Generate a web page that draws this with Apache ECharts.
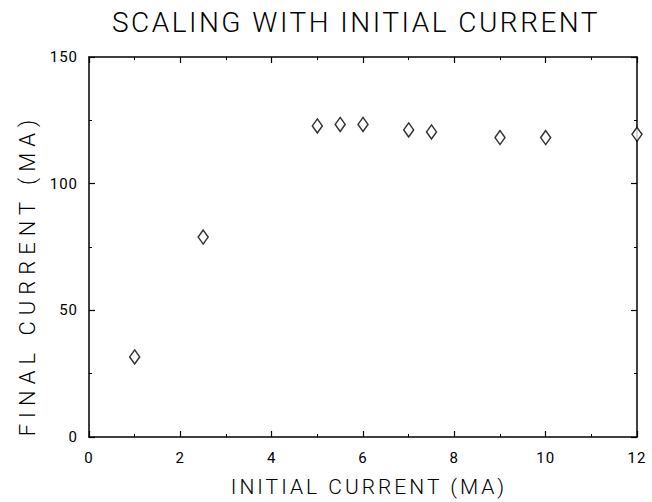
<!DOCTYPE html>
<html>
<head>
<meta charset="utf-8">
<script src="https://cdn.jsdelivr.net/npm/echarts@6/dist/echarts.min.js"></script>
<style>
html,body{margin:0;padding:0;background:#fff;}
#chart{width:652px;height:502px;}
#chart text[style*="28px"]{letter-spacing:2.5px;}
#chart text[style*="21px"]{letter-spacing:3px;}
#chart text[style*="22px"]{letter-spacing:6px;}
#chart text[style*="15px"]{letter-spacing:1px;}
</style>
</head>
<body>
<div id="chart"></div>
<script>
const titleText = "SCALING WITH INITIAL CURRENT";
const xName = "INITIAL CURRENT (MA)";
const yName = "FINAL CURRENT (MA)";
const initialCurrent = [1, 2.5, 5, 5.5, 6, 7, 7.5, 9, 10, 12];
const finalCurrent = [31.6, 78.9, 122.8, 123.4, 123.4, 121.2, 120.4, 118.2, 118.2, 119.5];
const xTicks = [0, 2, 4, 6, 8, 10, 12];
const yTicks = [0, 50, 100, 150];

const FONT = "Roboto, 'DejaVu Sans', sans-serif";
const chart = echarts.init(document.getElementById('chart'), null, {renderer: 'svg'});
const points = initialCurrent.map((x, i) => [x, finalCurrent[i]]);

function baseAxis(extra) {
  return Object.assign({
    type: 'value',
    axisLine: {show: true, onZero: false, lineStyle: {color: '#000', width: 1.5}},
    axisTick: {show: true, inside: true, length: 6, lineStyle: {color: '#000', width: 1.2}},
    minorTick: {show: true, splitNumber: 2, length: 3, lineStyle: {color: '#000', width: 1}},
    splitLine: {show: false},
    minorSplitLine: {show: false}
  }, extra);
}

const option = {
  animation: false,
  backgroundColor: '#fff',
  title: {
    text: titleText,
    left: 356,
    top: 8,
    textAlign: 'center',
    padding: 0,
    textStyle: {fontFamily: FONT, fontSize: 28, fontWeight: 300, color: '#000'}
  },
  grid: {left: 89, right: 15, top: 57, bottom: 61, containLabel: false},
  xAxis: [
    baseAxis({
      min: xTicks[0], max: xTicks[xTicks.length - 1], interval: xTicks[1] - xTicks[0],
      position: 'bottom',
      name: xName, nameLocation: 'middle', nameGap: 39,
      nameTextStyle: {fontFamily: FONT, fontSize: 21, fontWeight: 300, color: '#000', padding: [0, 0, 0, 12]},
      axisLabel: {show: true, margin: 13, fontFamily: FONT, fontSize: 15, color: '#000'}
    }),
    baseAxis({
      min: xTicks[0], max: xTicks[xTicks.length - 1], interval: xTicks[1] - xTicks[0],
      position: 'top',
      axisLabel: {show: false}
    })
  ],
  yAxis: [
    baseAxis({
      min: yTicks[0], max: yTicks[yTicks.length - 1], interval: yTicks[1] - yTicks[0],
      position: 'left',
      name: yName, nameLocation: 'middle', nameGap: 51,
      nameTextStyle: {fontFamily: FONT, fontSize: 22, fontWeight: 300, color: '#000', padding: [0, 56, 0, 0]},
      axisLabel: {show: true, margin: 11, fontFamily: FONT, fontSize: 15, color: '#000'}
    }),
    baseAxis({
      min: yTicks[0], max: yTicks[yTicks.length - 1], interval: yTicks[1] - yTicks[0],
      position: 'right',
      axisLabel: {show: false}
    })
  ],
  series: [{
    type: 'scatter',
    xAxisIndex: 0,
    yAxisIndex: 0,
    data: points,
    symbol: 'diamond',
    symbolSize: [10, 14],
    silent: true,
    itemStyle: {color: '#fff', borderColor: '#000', borderWidth: 1.5}
  }]
};
chart.setOption(option);
</script>
</body>
</html>
